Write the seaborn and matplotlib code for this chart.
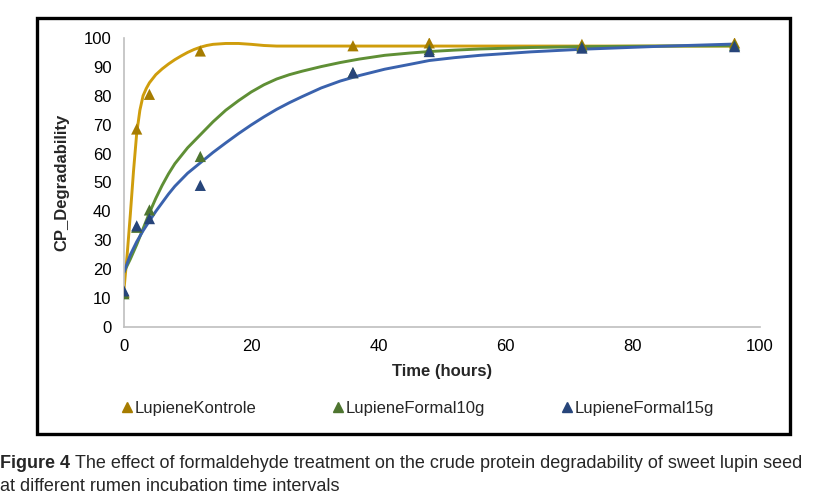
#!/usr/bin/env python3

import pandas as pd
import numpy as np
import matplotlib.pyplot as plt
import seaborn as sns
from matplotlib.lines import Line2D
from matplotlib.patches import Rectangle

# observed degradability (triangles)
obs_time = [0, 2, 4, 12, 36, 48, 72, 96]
kontrole_obs = [12, 68.5, 80.5, 95.5, 97.3, 98.3, 97.8, 98.3]
formal10_obs = [11.5, 34.5, 40.5, 59, 88, 96, 97, 97.5]
formal15_obs = [12.5, 35, 37.5, 49, 88, 95.3, 96.5, 97]

# fitted curves
kontrole_t = [0, 0.5, 1, 1.5, 2, 2.5, 3, 3.5, 4, 5, 6, 7, 8, 9, 10, 11, 12, 13, 14, 16, 18, 20, 22, 24, 36, 48, 72, 96]
kontrole_fit = [13, 25, 39, 54, 67, 75, 80, 82.5, 84.5, 87.3, 89.3, 91, 92.5, 93.8, 95, 96, 96.8, 97.4, 97.8,
                98.1, 98.1, 97.8, 97.4, 97.2, 97.2, 97.2, 97.2, 97.2]
formal_t = [0, 1, 2, 3, 4, 5, 6, 7, 8, 10, 12, 14, 16, 18, 20, 22, 24, 26, 28, 31, 34, 37, 41, 45, 48, 52, 56,
            64, 72, 84, 96]
formal10_fit = [19, 23.5, 28.5, 34, 39.5, 44.5, 49, 53, 56.5, 62, 66.5, 71, 75, 78.3, 81.3, 83.8, 85.8, 87.3,
                88.5, 90.1, 91.5, 92.7, 94, 94.8, 95.3, 95.8, 96.2, 96.7, 97.0, 97.2, 97.3]
formal15_fit = [19, 25, 29.5, 33.3, 36.7, 40, 43, 46, 48.7, 53.2, 56.8, 60.4, 63.7, 66.9, 69.9, 72.7, 75.3, 77.6,
                79.7, 82.7, 85.1, 87, 89.2, 90.9, 92.2, 93.2, 94, 95.2, 96.1, 97.1, 97.9]

series = ['LupieneKontrole', 'LupieneFormal10g', 'LupieneFormal15g']
line_colors = ['#cf9d0c', '#5f8f35', '#3a62ad']
marker_colors = ['#a67c00', '#4e7530', '#27457a']

obs = pd.DataFrame({
    'time': obs_time * 3,
    'value': kontrole_obs + formal10_obs + formal15_obs,
    'series': np.repeat(series, len(obs_time)),
})
fit = pd.DataFrame({
    'time': kontrole_t + formal_t + formal_t,
    'value': kontrole_fit + formal10_fit + formal15_fit,
    'series': [series[0]] * len(kontrole_t) + [series[1]] * len(formal_t) + [series[2]] * len(formal_t),
})

sns.set_style('white')
plt.rcParams['font.family'] = ['Liberation Sans', 'DejaVu Sans']

fig = plt.figure(figsize=(8.26, 4.99), dpi=100)
ax = fig.add_axes([0.1501, 0.3447, 0.770, 0.5792])

sns.lineplot(data=fit, x='time', y='value', hue='series', palette=line_colors,
             linewidth=2.1, legend=False, ax=ax, sort=False)
sns.scatterplot(data=obs, x='time', y='value', hue='series', palette=marker_colors,
                marker='^', s=65, edgecolor='none', legend=False, ax=ax, zorder=5)

ax.set_xlim(0, 100)
ax.set_ylim(0, 100)
ax.set_xticks([0, 20, 40, 60, 80, 100])
ax.set_yticks(range(0, 101, 10))
ax.tick_params(axis='both', labelsize=12, length=0, pad=9, colors='black')
for side in ['top', 'right']:
    ax.spines[side].set_visible(False)
for side in ['left', 'bottom']:
    ax.spines[side].set_color('#bfbfbf')
    ax.spines[side].set_linewidth(1.2)
ax.set_xlabel('Time (hours)', fontsize=12, fontweight='bold', labelpad=7)
ax.set_ylabel('CP_Degradability', fontsize=12, fontweight='bold', labelpad=10)

# legend shows markers only
handles = [Line2D([], [], marker='^', linestyle='none', color=c, markersize=7) for c in marker_colors]
fig.legend(handles, series, loc='center left', bbox_to_anchor=(0.14, 0.182), ncol=3,
           frameon=False, fontsize=12, handlelength=0.6, handletextpad=0.15,
           columnspacing=4.6, borderaxespad=0)

# outer frame
fig.patches.append(Rectangle((0.0448, 0.1303), 0.9116, 0.8337, transform=fig.transFigure,
                             fill=False, edgecolor='black', linewidth=2.4))

# caption
cap_size = 13
t1 = fig.text(0.0, 0.063, 'Figure 4 ', fontsize=cap_size, fontweight='bold')
renderer = fig.canvas.get_renderer()
x1 = t1.get_window_extent(renderer).x1 / fig.bbox.width
fig.text(x1, 0.063, 'The effect of formaldehyde treatment on the crude protein degradability of sweet lupin seed',
         fontsize=cap_size)
fig.text(0.0, 0.017, 'at different rumen incubation time intervals', fontsize=cap_size)

plt.savefig('out.png', dpi=100)
